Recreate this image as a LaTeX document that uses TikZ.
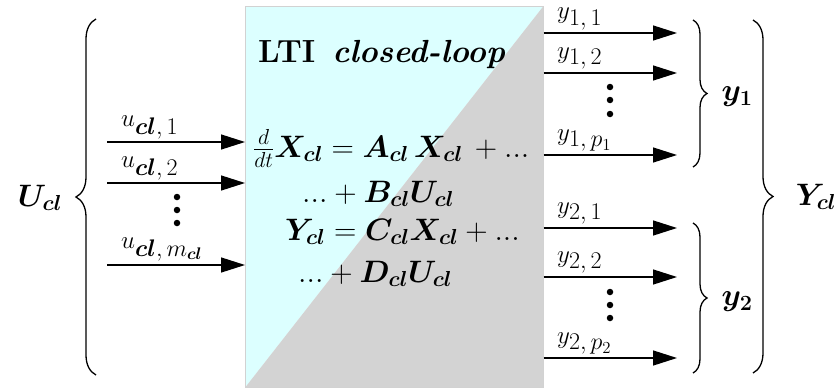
\RequirePackage{fix-cm}
\documentclass[tikz,border=0pt]{standalone}
\usepackage{amsmath,bm}
\usetikzlibrary{arrows.meta,decorations.pathreplacing}
\definecolor{cyanfill}{RGB}{220,255,255}
\definecolor{grayfill}{RGB}{211,211,211}
\newcommand{\bigsub}[1]{\text{\raisebox{-3pt}{\fontsize{24}{26}\selectfont$#1$}}}
\begin{document}
\begin{tikzpicture}[x=1pt,y=-1pt,
 arr/.style={line width=1.4pt,-{Triangle[length=24pt,width=15pt]}},
 brc/.style={line width=1.3pt,decorate,decoration={brace,amplitude=#1}},
 lbl/.style={font=\fontsize{25}{28}\selectfont,inner sep=0pt,anchor=base west},
 eq/.style={font=\fontsize{31}{35}\selectfont,inner sep=0pt,anchor=base west},
 big/.style={font=\fontsize{31}{36}\selectfont,inner sep=0pt},
 dot/.style={circle,fill,inner sep=0pt,minimum size=6.5pt}
]
\useasboundingbox (0,0) rectangle (839,388);
\node[draw=gray!35,line width=0.6pt,minimum width=298pt,minimum height=381pt,inner sep=0pt,anchor=north west,
  path picture={
   \fill[cyanfill] (path picture bounding box.north west) -- (path picture bounding box.north east) -- (path picture bounding box.south west) -- cycle;
   \fill[grayfill] (path picture bounding box.north east) -- (path picture bounding box.south east) -- (path picture bounding box.south west) -- cycle;
  }] (box) at (245,6) {};
% title and equations
\node[eq,font=\fontsize{32}{36}\selectfont] (title) at (258,62) {\textbf{LTI}\hspace{17pt}\textbf{\textit{closed-loop}}};
\node[eq] (eq1) at (253,157) {$\frac{d}{dt}\bm{X_{cl}}=\bm{A_{cl}}\,\bm{X_{cl}}\,+...$};
\node[eq] (eq2) at (302,202) {$...+\bm{B_{cl}}\bm{U_{cl}}$};
\node[eq] (eq3) at (285,240) {$\bm{Y_{cl}}=\bm{C_{cl}}\bm{X_{cl}}+...$};
\node[eq] (eq4) at (298,282) {$...+\bm{D_{cl}}\bm{U_{cl}}$};
% inputs
\coordinate (u1) at (107,142);
\coordinate (u2) at (107,183);
\coordinate (um) at (107,265);
\draw[arr] (u1) -- (u1 -| box.west);
\draw[arr] (u2) -- (u2 -| box.west);
\draw[arr] (um) -- (um -| box.west);
\node[lbl] (lu1) at (121,126) {$u_{\bigsub{\bm{cl},1}}$};
\node[lbl] (lu2) at (121,167) {$u_{\bigsub{\bm{cl},2}}$};
\node[lbl] (lum) at (121,248) {$u_{\bigsub{\bm{cl},m_{\bm{cl}}}}$};
\node[dot] (du1) at (177,197) {};
\node[dot] (du2) at (177,210) {};
\node[dot] (du3) at (177,223) {};
% left brace
\coordinate (lb1) at (96,375);
\coordinate (lb2) at (96,19);
\draw[brc=20pt] (lb1) -- (lb2);
\node[big] (U) at (40,198) {$\bm{U_{cl}}$};
% outputs
\foreach \n/\y in {o11/33,o12/73,o1p/155,o21/228,o22/277,o2p/358}{
  \coordinate (\n) at (box.east |- 0,\y);
  \coordinate (\n e) at (677,\y);
  \draw[arr] (\n) -- (\n e);
}
\node[lbl] (ly11) at (557,19) {$y_{\bigsub{1,1}}$};
\node[lbl] (ly12) at (557,58) {$y_{\bigsub{1,2}}$};
\node[lbl] (ly1p) at (557,140) {$y_{\bigsub{1,p_1}}$};
\node[lbl] (ly21) at (557,213) {$y_{\bigsub{2,1}}$};
\node[lbl] (ly22) at (557,262) {$y_{\bigsub{2,2}}$};
\node[lbl] (ly2p) at (557,343) {$y_{\bigsub{2,p_2}}$};
\node[dot] (dy11) at (610,87) {};
\node[dot] (dy12) at (610,100) {};
\node[dot] (dy13) at (610,114) {};
\node[dot] (dy21) at (610,292) {};
\node[dot] (dy22) at (610,305) {};
\node[dot] (dy23) at (610,318) {};
% right braces
\coordinate (b1a) at (693,20);
\coordinate (b1b) at (693,167);
\coordinate (b2a) at (693,223);
\coordinate (b2b) at (693,373);
\coordinate (b3a) at (753,20);
\coordinate (b3b) at (753,373);
\draw[brc=14pt] (b1a) -- (b1b);
\draw[brc=14pt] (b2a) -- (b2b);
\draw[brc=20pt] (b3a) -- (b3b);
\node[big] (Y1) at (737,97) {$\bm{y_1}$};
\node[big] (Y2) at (737,302) {$\bm{y_2}$};
\node[big] (Y) at (816,197) {$\bm{Y_{cl}}$};
\end{tikzpicture}
\end{document}
